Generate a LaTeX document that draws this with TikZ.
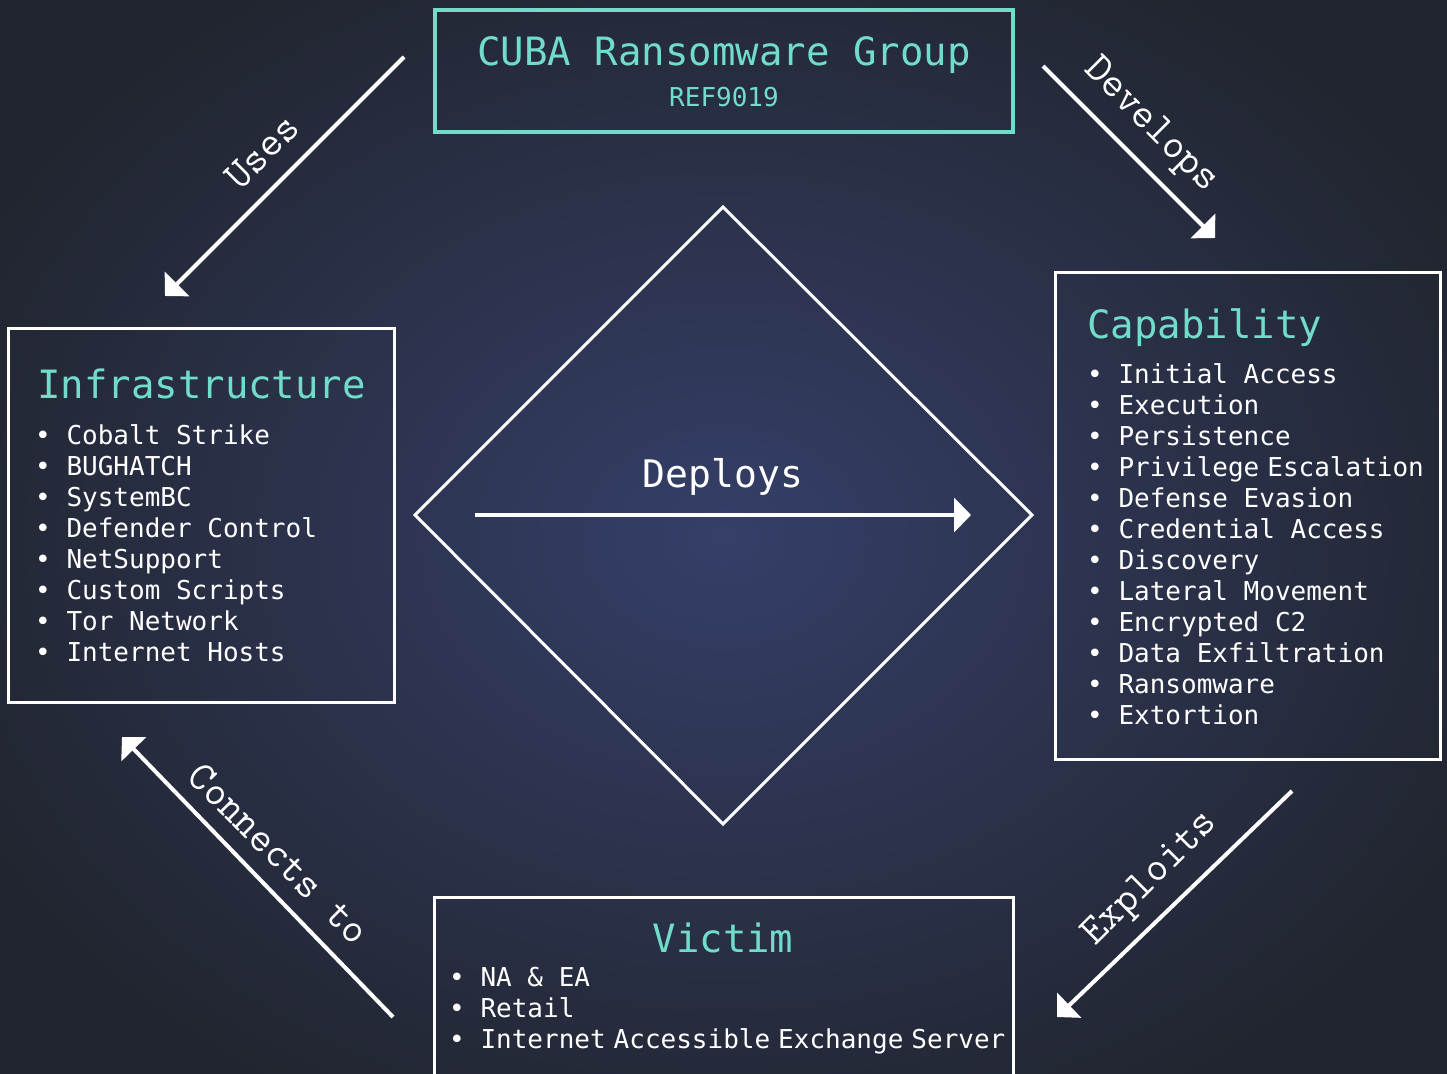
\documentclass[tikz,border=0pt]{standalone}
\usepackage{fontspec}
\setmainfont{DejaVu Sans Mono}
\usetikzlibrary{arrows.meta}
\definecolor{bginner}{HTML}{353F68}
\definecolor{bgouter}{HTML}{21252F}
\definecolor{mint}{HTML}{72DCCB}
\newcommand{\narrowsp}{\hspace{8pt}}

\begin{document}
\begin{tikzpicture}[x=1pt,y=-1pt,
    frame/.style={draw=white,line width=3pt,inner sep=0pt},
    heading/.style={text=mint,font=\fontsize{39}{47}\selectfont,inner sep=0pt},
    items/.style={text=white,font=\fontsize{26}{31}\selectfont,align=left,inner sep=0pt},
    rel/.style={draw=white,line width=4pt,-{Triangle[length=17pt,width=34pt]}},
    rellabel/.style={text=white,font=\ttfamily\fontsize{42}{46}\selectfont,inner sep=0pt}]
    % Background
    \useasboundingbox (0,0) rectangle (1447,1073);
    \clip (0,0) rectangle (1447,1073);
    \shade[inner color=bginner,outer color=bgouter] (-120,-120) rectangle (1567,1193);
    % The group
    \node[frame,draw=mint,line width=4pt,minimum width=578pt,minimum height=122pt] (group) at (724,71) {};
    \node[heading,anchor=base] (grouptitle) at (724,66) {CUBA Ransomware Group};
    \node[text=mint,font=\fontsize{26}{31}\selectfont,inner sep=0pt,anchor=base] (groupref) at (724,106) {REF9019};
    % Infrastructure
    \node[frame,minimum width=386pt,minimum height=374pt] (infra) at (201,515) {};
    \node[heading,anchor=base west] (infrahead) at (37,398) {Infrastructure};
    \node[items,anchor=north west] (infralist) at (35,424) {%
      • Cobalt Strike\\ • BUGHATCH\\ • SystemBC\\ • Defender Control\\
      • NetSupport\\ • Custom Scripts\\ • Tor Network\\ • Internet Hosts};
    % Capability
    \node[frame,minimum width=385pt,minimum height=487pt] (capab) at (1247.5,515.5) {};
    \node[heading,anchor=base west] (capabhead) at (1087,338) {Capability};
    \node[items,anchor=north west] (capablist) at (1087,363) {%
      • Initial Access\\ • Execution\\ • Persistence\\ • Privilege\narrowsp Escalation\\
      • Defense Evasion\\ • Credential Access\\ • Discovery\\ • Lateral Movement\\
      • Encrypted C2\\ • Data Exfiltration\\ • Ransomware\\ • Extortion};
    % Victim
    \node[frame,minimum width=579pt,minimum height=186pt] (victim) at (723.5,990) {};
    \node[heading,anchor=base] (victimhead) at (723,952) {Victim};
    \node[items,anchor=north west] (victimlist) at (449,967) {%
      • NA \& EA\\ • Retail\\ • Internet\narrowsp Accessible\narrowsp Exchange\narrowsp Server};
    % Draw the diamond
    \draw[white,line width=3pt,line join=miter] (723,207) -- (1032,515) -- (723,824) -- (415,515) -- cycle;
    \node[text=white,font=\fontsize{38}{46}\selectfont,inner sep=0pt,anchor=base] (deploys) at (723,487) {Deploys};
    \coordinate (deployfrom) at (475,515);
    \coordinate (deployto) at (971,515);
    \draw[rel] (deployfrom) -- (deployto);
    % Draw the arrows
    \coordinate (usesfrom) at (404,57);
    \coordinate (usesto) at (165,296);
    \draw[rel] (usesfrom) -- (usesto);
    \node[rellabel,rotate=45] (useslabel) at (262,152) {Uses};
    \coordinate (devfrom) at (1043,66);
    \coordinate (devto) at (1215,238);
    \draw[rel] (devfrom) -- (devto);
    \node[rellabel,rotate=-45] (devlabel) at (1150,126) {Develops};
    \coordinate (exfrom) at (1292,791);
    \coordinate (exto) at (1057,1017);
    \draw[rel] (exfrom) -- (exto);
    \node[rellabel,rotate=45] (exlabel) at (1151,880) {Exploits};
    \coordinate (confrom) at (393,1017);
    \coordinate (conto) at (122,737);
    \draw[rel] (confrom) -- (conto);
    \node[rellabel,rotate=-45] (conlabel) at (279,854) {Connects to};
\end{tikzpicture}
\end{document}
